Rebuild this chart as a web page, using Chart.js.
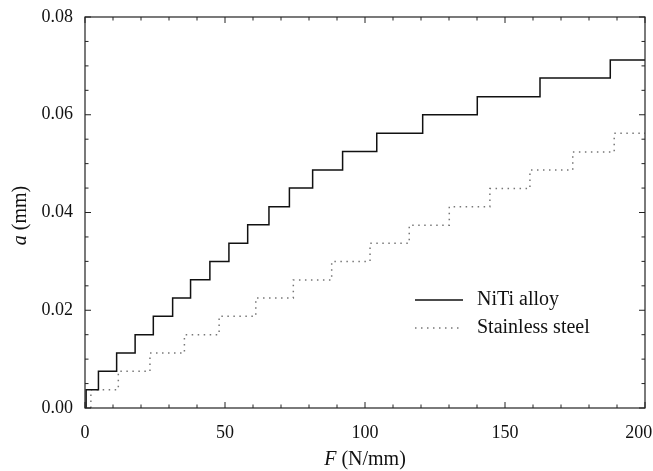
<!DOCTYPE html>
<html>
<head>
<meta charset="utf-8">
<script src="https://cdn.jsdelivr.net/npm/chart.js@4"></script>
<style>
  html, body { margin: 0; padding: 0; background: #fff; }
  #wrap { width: 653px; height: 471px; }
</style>
</head>
<body>
<div id="wrap"><canvas id="myChart" width="653" height="471"></canvas></div>
<script>
// data
const nitiStepF = [0, 0.4, 4.8, 11.3, 17.9, 24.4, 31.3, 37.7, 44.6, 51.4, 58.1, 65.7, 73.0, 81.3, 92.0, 104.2, 120.6, 140.1, 162.5, 187.6, 200];
const nitiLevel = [0, 0.00375, 0.0075, 0.01125, 0.015, 0.01875, 0.0225, 0.02625, 0.03, 0.0337, 0.0375, 0.0412, 0.045, 0.0487, 0.0525, 0.0562, 0.06, 0.0637, 0.0675, 0.0712, 0.0712];
const steelStepF = [0, 2.1, 11.9, 23.2, 35.5, 47.9, 61.0, 74.4, 88.1, 101.8, 115.8, 130.1, 144.6, 158.9, 174.2, 189.0, 200];
const steelLevel = [0, 0.00375, 0.0075, 0.01125, 0.015, 0.01875, 0.0225, 0.0262, 0.03, 0.0337, 0.0374, 0.0412, 0.0449, 0.0487, 0.0524, 0.0562, 0.0562];
const xTicks = [0, 50, 100, 150, 200];
const yTicks = [0, 0.02, 0.04, 0.06, 0.08];
const seriesNames = ['NiTi alloy', 'Stainless steel'];

const serif = '"Liberation Serif", "DejaVu Serif", serif';

function pts(xs, ys) {
  return xs.map((x, i) => ({ x: x, y: ys[i] }));
}

// inward ticks on all four sides + frame + legend + axis titles
const decor = {
  id: 'decor',
  afterDraw(chart) {
    const ctx = chart.ctx;
    const a = chart.chartArea;
    const xs = chart.scales.x, ys = chart.scales.y;
    ctx.save();
    ctx.strokeStyle = '#222';
    ctx.lineWidth = 1.2;
    ctx.strokeRect(a.left, a.top, a.right - a.left, a.bottom - a.top);
    ctx.lineWidth = 1;
    ctx.beginPath();
    for (let v = 0; v <= 200; v += 10) {
      const p = xs.getPixelForValue(v);
      const len = v % 50 === 0 ? 6 : 3.5;
      ctx.moveTo(p, a.bottom); ctx.lineTo(p, a.bottom - len);
      ctx.moveTo(p, a.top); ctx.lineTo(p, a.top + len);
    }
    for (let k = 0; k <= 16; k++) {
      const v = k * 0.005;
      const p = ys.getPixelForValue(v);
      const len = k % 4 === 0 ? 6 : 3.5;
      ctx.moveTo(a.left, p); ctx.lineTo(a.left + len, p);
      ctx.moveTo(a.right, p); ctx.lineTo(a.right - len, p);
    }
    ctx.stroke();

    // legend
    ctx.fillStyle = '#111';
    ctx.font = '20px ' + serif;
    ctx.textBaseline = 'middle';
    ctx.textAlign = 'left';
    ctx.strokeStyle = '#111';
    ctx.lineWidth = 1.5;
    ctx.beginPath(); ctx.moveTo(415, 300); ctx.lineTo(463, 300); ctx.stroke();
    ctx.strokeStyle = '#777';
    ctx.setLineDash([1.5, 4.5]);
    ctx.beginPath(); ctx.moveTo(415, 328); ctx.lineTo(463, 328); ctx.stroke();
    ctx.setLineDash([]);
    ctx.fillText(seriesNames[0], 477, 300);
    ctx.fillText(seriesNames[1], 477, 328);

    // x title
    const xt1 = 'F', xt2 = ' (N/mm)';
    ctx.font = 'italic 20px ' + serif;
    const w1 = ctx.measureText(xt1).width;
    ctx.font = '20px ' + serif;
    const w2 = ctx.measureText(xt2).width;
    const cx = (a.left + a.right) / 2;
    let sx = cx - (w1 + w2) / 2;
    ctx.font = 'italic 20px ' + serif;
    ctx.fillText(xt1, sx, 460);
    ctx.font = '20px ' + serif;
    ctx.fillText(xt2, sx + w1, 460);

    // y title
    ctx.translate(21, (a.top + a.bottom) / 2 + 3);
    ctx.rotate(-Math.PI / 2);
    const yt1 = 'a', yt2 = ' (mm)';
    ctx.font = 'italic 20px ' + serif;
    const v1 = ctx.measureText(yt1).width;
    ctx.font = '20px ' + serif;
    const v2 = ctx.measureText(yt2).width;
    sx = -(v1 + v2) / 2;
    ctx.font = 'italic 20px ' + serif;
    ctx.fillText(yt1, sx, 0);
    ctx.font = '20px ' + serif;
    ctx.fillText(yt2, sx + v1, 0);
    ctx.restore();
  }
};

const data = {
  datasets: [{
    label: seriesNames[0],
    data: pts(nitiStepF, nitiLevel),
    borderColor: '#111',
    borderWidth: 1.5,
    stepped: true,
    pointRadius: 0,
    fill: false
  },
  {
    label: seriesNames[1],
    data: pts(steelStepF, steelLevel),
    borderColor: '#777',
    borderWidth: 1.5,
    borderDash: [1.5, 4.5],
    stepped: true,
    pointRadius: 0,
    fill: false
  }]
};

const config = {
  type: 'line',
  data,
  options: {
    responsive: false,
    animation: false,
    layout: { padding: { top: 17, right: 8, left: 0, bottom: 0 } },
    plugins: { legend: { display: false }, tooltip: { enabled: false } },
    scales: {
      x: {
        type: 'linear',
        min: 0, max: 200,
        afterBuildTicks: s => { s.ticks = xTicks.map(v => ({ value: v })); },
        afterFit: s => { s.height = 63; s.paddingLeft = 0; s.paddingRight = 0; },
        grid: { display: false },
        border: { display: false },
        ticks: {
          color: '#111',
          font: { family: serif, size: 18 },
          padding: 6,
          maxRotation: 0,
          // last label sits a little inside the frame, as in the original
          callback: v => v === 200 ? String(v) + '\u2002\u2009' : String(v)
        }
      },
      y: {
        type: 'linear',
        min: 0, max: 0.08,
        afterBuildTicks: s => { s.ticks = yTicks.map(v => ({ value: v })); },
        afterFit: s => { s.width = 85; s.paddingTop = 0; s.paddingBottom = 0; },
        grid: { display: false },
        border: { display: false },
        ticks: {
          color: '#111',
          font: { family: serif, size: 18 },
          padding: 4,
          callback: v => v.toFixed(2)
        }
      }
    }
  },
  plugins: [decor]
};

const myChart = new Chart(document.getElementById('myChart'), config);
</script>
</body>
</html>
